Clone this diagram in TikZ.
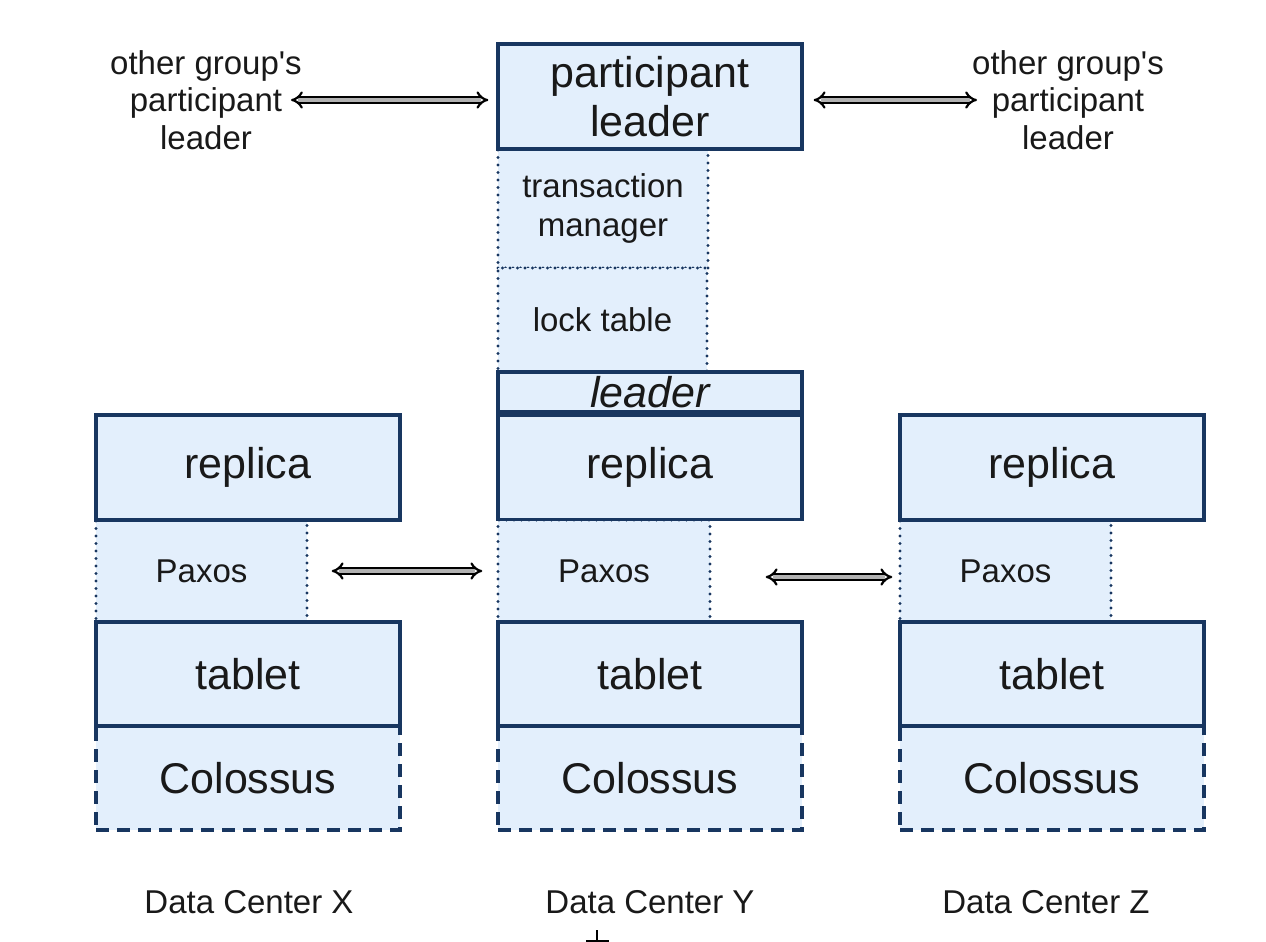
\documentclass[tikz,border=0pt]{standalone}
\usepackage{fontspec}
\setmainfont{Liberation Sans}[Ligatures=TeXOff]
\usetikzlibrary{arrows.meta}
\definecolor{navy}{RGB}{24,54,96}
\definecolor{boxfill}{RGB}{227,239,252}
\definecolor{txt}{RGB}{25,25,25}
\tikzset{
  solidbox/.style={draw=navy, line width=3.3pt, fill=boxfill, inner sep=0pt, text=txt, align=center, font=\fontsize{43}{49}\selectfont},
  dotbox/.style={draw=navy, line width=3.4pt, dash pattern=on 0pt off 7.5pt, line cap=round, fill=boxfill, inner sep=0pt, text=txt, align=center, font=\fontsize{33}{39}\selectfont},
  dashbox/.style={draw=navy, line width=3.3pt, dash pattern=on 13pt off 8pt, fill=boxfill, inner sep=0pt, text=txt, align=center, font=\fontsize{43}{49}\selectfont},
  plain/.style={inner sep=0pt, text=txt, align=center, font=\fontsize{33}{37.5}\selectfont},
  dblarrow/.style={draw=black, double=gray!60, double distance=3.5pt, line width=2.2pt, {Implies[length=8pt,width=17pt]}-{Implies[length=8pt,width=17pt]}}
}
\begin{document}
\begin{tikzpicture}[x=1pt,y=-1pt]
\useasboundingbox (0,0) rectangle (1266,942);
% dotted boxes first
\node[dotbox, minimum width=210pt, minimum height=119pt] (tm) at (603,208.5) {transaction\\manager};
\node[dotbox, minimum width=209pt, minimum height=104pt] (lt) at (602.5,320) {lock table};
\node[dotbox, minimum width=211pt, minimum height=102pt] (pxX) at (201.5,571) {Paxos};
\node[dotbox, minimum width=212pt, minimum height=102pt] (pxY) at (604,571) {Paxos};
\node[dotbox, minimum width=211pt, minimum height=102pt] (pxZ) at (1005.5,571) {Paxos};
% participant leader
\node[solidbox, minimum width=304pt, minimum height=105pt] (pl) at (650,96.5) {participant\\leader};
\node[solidbox, minimum width=304pt, minimum height=40pt, font=\fontsize{43}{49}\selectfont\itshape] (ld) at (650,392) {leader};
% columns
\node[solidbox, minimum width=304pt, minimum height=105pt] (repX) at (248,467.5) {replica};
\node[solidbox, minimum width=304pt, minimum height=104pt] (repY) at (650,467.5) {replica};
\node[solidbox, minimum width=304pt, minimum height=105pt] (repZ) at (1052,467.5) {replica};
\node[dashbox, minimum width=304pt, minimum height=104pt] (colX) at (248,778) {Colossus};
\node[dashbox, minimum width=304pt, minimum height=104pt] (colY) at (650,778) {Colossus};
\node[dashbox, minimum width=304pt, minimum height=104pt] (colZ) at (1052,778) {Colossus};
\node[solidbox, minimum width=304pt, minimum height=104pt] (tabX) at (248,674) {tablet};
\node[solidbox, minimum width=304pt, minimum height=104pt] (tabY) at (650,674) {tablet};
\node[solidbox, minimum width=304pt, minimum height=104pt] (tabZ) at (1052,674) {tablet};
% side labels
\node[plain] (ogl) at (206,100) {other group's\\participant\\leader};
\node[plain] (ogr) at (1068,100) {other group's\\participant\\leader};
% data center labels
\node[plain] (dcX) at (249,902) {Data Center X};
\node[plain] (dcY) at (650,902) {Data Center Y};
\node[plain] (dcZ) at (1046,902) {Data Center Z};
% arrows
\draw[dblarrow] ([xshift=-11pt]ogl.east) -- ([xshift=-8pt]pl.west |- ogl.east);
\draw[dblarrow] ([xshift=10pt]pl.east |- ogr.west) -- ([xshift=5pt]ogr.west);
\draw[dblarrow] ([xshift=23pt]pxX.east) -- ([xshift=-14pt]pxY.west);
\draw[dblarrow] ([xshift=54pt,yshift=-6pt]pxY.east) -- ([xshift=-6pt,yshift=-6pt]pxZ.west);
% small mark at bottom
\coordinate (mk) at (597,941);
\draw[line width=1.4pt, black] ([xshift=-11pt]mk) -- ([xshift=12pt]mk);
\draw[line width=1.4pt, black] (mk) -- ([yshift=11pt]mk);
\end{tikzpicture}
\end{document}
